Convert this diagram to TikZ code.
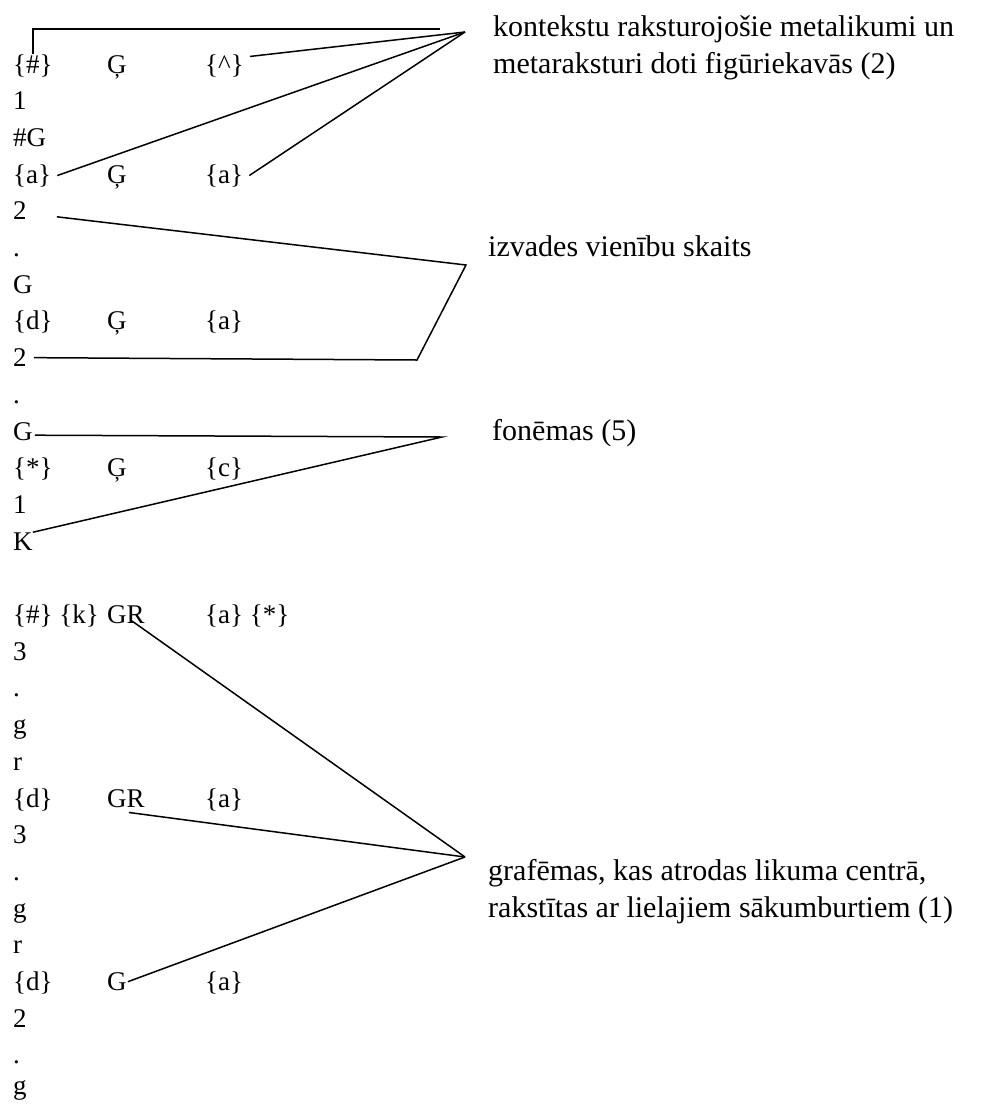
\documentclass[tikz,border=0pt]{standalone}
\usepackage{fontspec}
\setmainfont{Liberation Serif}
\usepackage{tikz}

\tikzset{
  txt/.style={anchor=base west, inner sep=0pt, font=\fontsize{27}{36.7}\selectfont},
  note/.style={anchor=base west, inner sep=0pt, align=left, font=\fontsize{30}{36.6}\selectfont},
  lnk/.style={line width=1.5pt},
}

\begin{document}
\begin{tikzpicture}[x=1pt, y=-1pt]
  \useasboundingbox (0,0) rectangle (992,1104);

  % first column, rows with a single entry
  \foreach \i/\txt in {2/1, 3/\#G, 5/2, 6/., 7/G, 9/2, 10/., 11/G, 13/1, 14/K,
                       17/3, 18/., 19/g, 20/r, 22/3, 23/., 24/g, 25/r, 27/2, 28/.}
    \node[txt] (r\i) at (13, {73+(\i-1)*36.7}) {\txt};
  \node[txt] (r29) at (13, 1094) {g};

  % rows with three columns
  \node[txt] (a1) at (13, 73) {\{\#\}};
  \node[txt] (b1) at (107, 73) {Ģ};
  \node[txt] (c1) at (205, 73) {\{\textasciicircum\}};

  \node[txt] (a4) at (13, 183.1) {\{a\}};
  \node[txt] (b4) at (107, 183.1) {Ģ};
  \node[txt] (c4) at (205, 183.1) {\{a\}};

  \node[txt] (a8) at (13, 329.9) {\{d\}};
  \node[txt] (b8) at (107, 329.9) {Ģ};
  \node[txt] (c8) at (205, 329.9) {\{a\}};

  \node[txt] (a12) at (13, 476.7) {\{*\}};
  \node[txt] (b12) at (107, 476.7) {Ģ};
  \node[txt] (c12) at (205, 476.7) {\{c\}};

  \node[txt] (a16) at (13, 623.5) {\{\#\} \{k\}};
  \node[txt] (b16) at (107, 623.5) {GR};
  \node[txt] (c16) at (205, 623.5) {\{a\} \{*\}};

  \node[txt] (a21) at (13, 807) {\{d\}};
  \node[txt] (b21) at (107, 807) {GR};
  \node[txt] (c21) at (205, 807) {\{a\}};

  \node[txt] (a26) at (13, 990.5) {\{d\}};
  \node[txt] (b26) at (107, 990.5) {G};
  \node[txt] (c26) at (205, 990.5) {\{a\}};

  % explanations (base = last line)
  \node[note] (ctx) at (493, 73) {kontekstu raksturojošie metalikumi un\\metaraksturi doti figūriekavās (2)};
  \node[note] (cnt) at (488, 256.5) {izvades vienību skaits};
  \node[note] (fon) at (492, 440) {fonēmas (5)};
  \node[note] (gra) at (488, 917) {grafēmas, kas atrodas likuma centrā,\\rakstītas ar lielajiem sākumburtiem (1)};

  \coordinate (ctxend) at (440, 29);
  \coordinate (ctxtip) at (465, 32);
  \coordinate (cnttip) at (466, 265);
  \coordinate (cntbend) at (417, 360);
  \coordinate (fontip) at (442, 437);
  \coordinate (gratip) at (465, 857);

  \draw[lnk] (a1.north) |- (ctxend);
  \draw[lnk] ([shift={(6,-9)}]c1.east) -- (ctxtip);
  \draw[lnk] ([xshift=6]a4.east) -- (ctxtip);
  \draw[lnk] ([xshift=6]c4.east) -- (ctxtip);

  \draw[lnk] ([shift={(30,-3)}]r5.base east) -- (cnttip) -- (cntbend) -- ([xshift=7]r9.east);

  \draw[lnk] ([shift={(2,4)}]r11.east) -- (fontip) -- (r14.north east);

  \draw[lnk] ([shift={(6,-3)}]b16.south) -- (gratip);
  \draw[lnk] ([shift={(3,5)}]b21.south) -- (gratip);
  \draw[lnk] ([xshift=1]b26.east) -- (gratip);
\end{tikzpicture}
\end{document}
